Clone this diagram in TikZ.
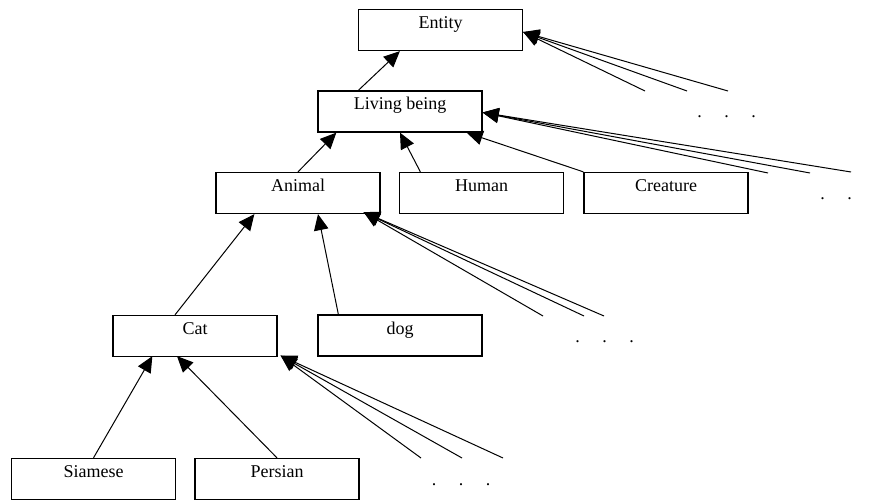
\documentclass[tikz,border=0pt]{standalone}
\usepackage{fontspec}
\setmainfont{Liberation Serif}
\usetikzlibrary{arrows.meta}
\begin{document}
\begin{tikzpicture}[x=1pt,y=-1pt,
  box/.style={draw, line width=1.3pt, minimum width=164pt, minimum height=41pt,
    inner sep=0pt, text height=19pt, text depth=22pt,
    font=\fontsize{18}{20}\selectfont},
  isa/.style={line width=1pt, -{Triangle[length=16pt,width=14.5pt]}},
  more/.style={font=\fontsize{18}{20}\selectfont, inner sep=0pt, anchor=base}]
\useasboundingbox (0,0) rectangle (870,500);

% concept boxes
\node[box] (entity)   at (440.5,30)  {Entity};
\node[box] (living)   at (400,111.5) {Living being};
\node[box] (animal)   at (298,193)   {Animal};
\node[box] (human)    at (481.5,193) {Human};
\node[box] (creature) at (666,193)   {Creature};
\node[box] (cat)      at (195,336)   {Cat};
\node[box] (dog)      at (400,335.5) {dog};
\node[box] (siamese)  at (93.5,479)  {Siamese};
\node[box] (persian)  at (277,479)   {Persian};

% open ends of the "and so on" fans
\coordinate (e1) at (645,91);  \coordinate (e2) at (687,91);  \coordinate (e3) at (728,91);
\coordinate (l1) at (768,173); \coordinate (l2) at (810,173); \coordinate (l3) at (851,172);
\coordinate (a1) at (543,316); \coordinate (a2) at (584,316); \coordinate (a3) at (604,316);
\coordinate (c1) at (421,458); \coordinate (c2) at (462,458); \coordinate (c3) at (503,458);

% is-a links
\draw[isa] ([xshift=41pt]living.north west) -- ([xshift=42pt]entity.south west);
\foreach \p in {e1,e2,e3} \draw[isa] (\p) -- ([yshift=-2pt]entity.east);

\draw[isa] (animal.north) -- ([xshift=19pt]living.south west);
\draw[isa] ([xshift=21.5pt]human.north west) -- (living.south);
\draw[isa] (creature.north west) -- ([xshift=-16pt]living.south east);
\foreach \p in {l1,l2,l3} \draw[isa] (\p) -- ([yshift=-1pt]living.east);

\draw[isa] ([xshift=-20pt]cat.north) -- ([xshift=39pt]animal.south west);
\draw[isa] ([xshift=21pt]dog.north west) -- ([xshift=20pt]animal.south);
\foreach \p in {a1,a2,a3} \draw[isa] (\p) -- ([xshift=-17pt,yshift=2pt]animal.south east);

\draw[isa] (siamese.north) -- ([xshift=40pt,yshift=1pt]cat.south west);
\draw[isa] (persian.north) -- ([xshift=-18pt,yshift=1pt]cat.south);
\foreach \p in {c1,c2,c3} \draw[isa] (\p) -- ([xshift=3pt,yshift=1.5pt]cat.south east);

% ellipses
\node[more] (dotsE) at (726.5,118) {.\hspace{22.5pt}.\hspace{22.5pt}.};
\node[more] (dotsL) at (836,199)   {.\hspace{22.5pt}.};
\node[more] (dotsA) at (604.5,342) {.\hspace{22.5pt}.\hspace{22.5pt}.};
\node[more] (dotsC) at (461,485)   {.\hspace{22.5pt}.\hspace{22.5pt}.};
\end{tikzpicture}
\end{document}
